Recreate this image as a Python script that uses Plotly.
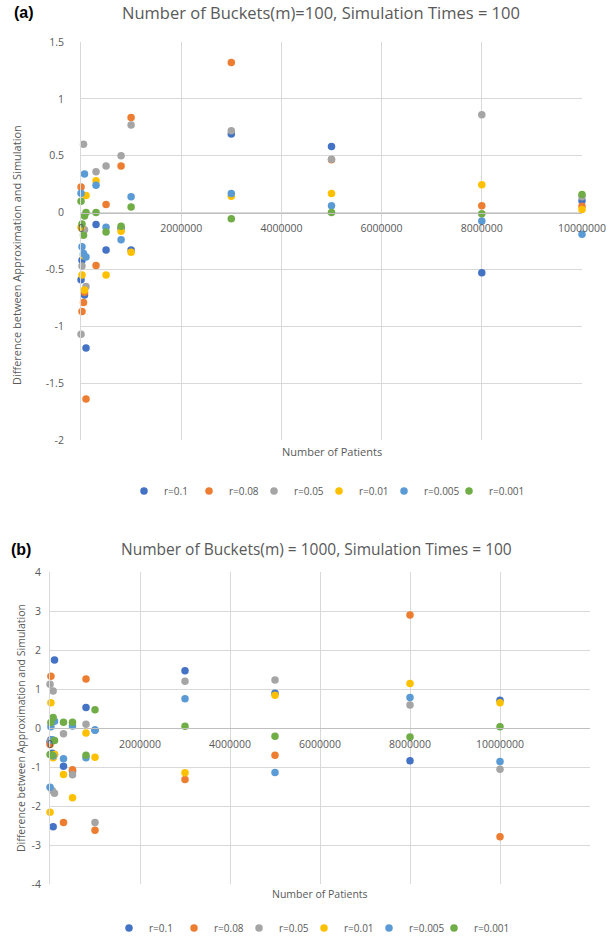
import plotly.graph_objects as go

# ---------------- data ----------------
patients = [1000, 20000, 50000, 70000, 100000, 300000, 500000, 800000,
            1000000, 3000000, 5000000, 8000000, 10000000]

series_names = ["r=0.1", "r=0.08", "r=0.05", "r=0.01", "r=0.005", "r=0.001"]
series_colors = ["#4472C4", "#ED7D31", "#A5A5A5", "#FFC000", "#5B9BD5", "#70AD47"]

# (a) m = 100
a_r01 = [-0.59, -0.42, -0.37, -0.725, -1.19, -0.105, -0.33, -0.14, -0.33, 0.69, 0.58, -0.53, 0.105]
a_r008 = [0.225, -0.87, -0.79, -0.70, -1.64, -0.465, 0.07, 0.41, 0.835, 1.32, 0.465, 0.06, 0.055]
a_r005 = [-1.07, -0.47, 0.60, -0.15, -0.65, 0.36, 0.41, 0.50, 0.77, 0.72, 0.47, 0.86, 0.14]
a_r001 = [-0.13, -0.55, -0.38, -0.68, 0.15, 0.28, -0.55, -0.165, -0.35, 0.143, 0.167, 0.245, 0.026]
a_r0005 = [0.17, -0.30, -0.36, 0.34, -0.39, 0.24, -0.13, -0.24, 0.14, 0.167, 0.06, -0.075, -0.19]
a_r0001 = [0.10, -0.10, -0.20, -0.03, 0.00, 0.00, -0.17, -0.12, 0.05, -0.055, 0.0, -0.01, 0.158]

# (b) m = 1000
b_r01 = [-0.35, -0.30, -0.65, -2.53, 1.745, -0.98, -1.10, 0.525, -0.05, 1.47, 0.89, -0.84, 0.71]
b_r008 = [-0.42, 1.33, -0.70, -0.72, -0.68, -2.42, -1.07, 1.255, -2.62, -1.32, -0.70, 2.90, -2.79]
b_r005 = [1.12, -0.32, -1.60, 0.95, -1.67, -0.145, -1.20, 0.095, -2.42, 1.20, 1.23, 0.59, -1.06]
b_r001 = [-2.16, 0.65, -0.72, -0.76, -0.68, -1.19, -1.79, -0.13, -0.75, -1.15, 0.84, 1.14, 0.65]
b_r0005 = [-1.52, 0.03, -0.30, -0.72, 0.17, -0.79, 0.05, -0.76, -0.06, 0.75, -1.14, 0.78, -0.86]
b_r0001 = [-0.68, 0.14, -0.70, 0.27, -0.32, 0.15, 0.15, -0.70, 0.47, 0.045, -0.21, -0.23, 0.03]

a_values = [a_r01, a_r008, a_r005, a_r001, a_r0005, a_r0001]
b_values = [b_r01, b_r008, b_r005, b_r001, b_r0005, b_r0001]

a_yticks = [-2, -1.5, -1, -0.5, 0, 0.5, 1, 1.5]
a_yticklabels = ["-2", "-1.5", "-1", "-0.5", "0", "0.5", "1", "1.5"]
b_yticks = [-4, -3, -2, -1, 0, 1, 2, 3, 4]
b_yticklabels = ["-4", "-3", "-2", "-1", "0", "1", "2", "3", "4"]

title_a = "Number of Buckets(m)=100, Simulation Times = 100"
title_b = "Number of Buckets(m) = 1000, Simulation Times = 100"
x_title = "Number of Patients"
y_title = "Difference between Approximation and Simulation"

# ---------------- layout geometry ----------------
W, H = 609, 938
FONT = "Open Sans"
GRAY = "#595959"
GRID = "#D9D9D9"

def px_x(p):
    return p / W

def px_y(p):
    return 1 - p / H

a_xrange = [0, 10000000]
a_yrange = [-2, 1.5]
b_xrange = [0, 12000000]
b_yrange = [-4, 4]

a_xdom = [px_x(81), px_x(582)]
a_ydom = [px_y(440), px_y(42)]
b_xdom = [px_x(50), px_x(590)]
b_ydom = [px_y(884), px_y(572)]

def zero_pos(ydom, yrange):
    return ydom[0] + (0 - yrange[0]) / (yrange[1] - yrange[0]) * (ydom[1] - ydom[0])

fig = go.Figure()

n_series = len(series_names)
for i, (name, color, ya) in enumerate(zip(series_names, series_colors, a_values)):
    fig.add_trace(go.Scatter(
        x=patients, y=ya, mode="markers", name=name,
        marker=dict(color=color, size=7.5), cliponaxis=False,
        legendwidth=38 if i == n_series - 1 else None,
        xaxis="x", yaxis="y", legend="legend"))

for i, (name, color, yb) in enumerate(zip(series_names, series_colors, b_values)):
    fig.add_trace(go.Scatter(
        x=patients, y=yb, mode="markers", name=name,
        marker=dict(color=color, size=7.5), cliponaxis=False,
        legendwidth=38 if i == n_series - 1 else None,
        xaxis="x2", yaxis="y2", legend="legend2"))

xaxis_common = dict(
    showgrid=True, gridcolor=GRID, gridwidth=1,
    showline=True, linecolor="#BFBFBF", linewidth=1,
    zeroline=False, ticks="", tickformat="d",
    tickfont=dict(family=FONT, size=10.5, color=GRAY),
    ticklabelstandoff=6, fixedrange=True,
)
yaxis_common = dict(
    showgrid=True, gridcolor=GRID, gridwidth=1,
    showline=True, linecolor=GRID, linewidth=1,
    zeroline=False, ticks="",
    tickfont=dict(family=FONT, size=10.5, color=GRAY),
    fixedrange=True,
)

legend_common = dict(
    orientation="h", xanchor="center", yanchor="middle",
    font=dict(family=FONT, size=10, color=GRAY), bgcolor="rgba(0,0,0,0)",
    itemwidth=30, tracegroupgap=0, entrywidth=20, entrywidthmode="pixels",
)

fig.update_layout(
    width=W, height=H, autosize=False,
    margin=dict(l=0, r=0, t=0, b=0, pad=0, autoexpand=False),
    paper_bgcolor="white", plot_bgcolor="white",
    font=dict(family=FONT, color=GRAY),
    xaxis=dict(domain=a_xdom, range=a_xrange, dtick=2000000, anchor="free",
               position=zero_pos(a_ydom, a_yrange), **xaxis_common),
    yaxis=dict(domain=a_ydom, range=a_yrange, anchor="x",
               tickvals=a_yticks, ticktext=a_yticklabels,
               ticklabelstandoff=14, **yaxis_common),
    xaxis2=dict(domain=b_xdom, range=b_xrange, dtick=2000000, anchor="free",
                position=zero_pos(b_ydom, b_yrange), **xaxis_common),
    yaxis2=dict(domain=b_ydom, range=b_yrange, anchor="x2",
                tickvals=b_yticks, ticktext=b_yticklabels,
                ticklabelstandoff=6, **yaxis_common),
    legend=dict(x=px_x(328), y=px_y(491), **legend_common),
    legend2=dict(x=px_x(313), y=px_y(928), **legend_common),
    showlegend=True,
)

annotations = [
    dict(text="<b>(a)</b>", x=px_x(12), y=px_y(13), xanchor="left", yanchor="middle",
         font=dict(family="Liberation Sans", size=16, color="black")),
    dict(text=title_a, x=px_x(321), y=px_y(13), xanchor="center", yanchor="middle",
         font=dict(family=FONT, size=16.5, color=GRAY)),
    dict(text="<b>(b)</b>", x=px_x(9), y=px_y(549), xanchor="left", yanchor="middle",
         font=dict(family="Liberation Sans", size=16, color="black")),
    dict(text=title_b, x=px_x(316), y=px_y(549), xanchor="center", yanchor="middle",
         font=dict(family=FONT, size=15.5, color=GRAY)),
    dict(text=x_title, x=(a_xdom[0] + a_xdom[1]) / 2, y=px_y(451), xanchor="center", yanchor="middle",
         font=dict(family=FONT, size=11, color=GRAY)),
    dict(text=x_title, x=(b_xdom[0] + b_xdom[1]) / 2, y=px_y(894), xanchor="center", yanchor="middle",
         font=dict(family=FONT, size=10.5, color=GRAY)),
    dict(text=y_title, x=px_x(16), y=px_y(255), xanchor="center", yanchor="middle", textangle=-90,
         font=dict(family=FONT, size=11, color=GRAY)),
    dict(text=y_title, x=px_x(21), y=px_y(728), xanchor="center", yanchor="middle", textangle=-90,
         font=dict(family=FONT, size=10.5, color=GRAY)),
]
for an in annotations:
    an.update(xref="paper", yref="paper", showarrow=False)
fig.update_layout(annotations=annotations)

fig.write_html(
    "out.html",
    config={"responsive": False, "displayModeBar": False},
    post_script="document.body.style.margin='0';document.body.style.overflow='hidden';",
)
